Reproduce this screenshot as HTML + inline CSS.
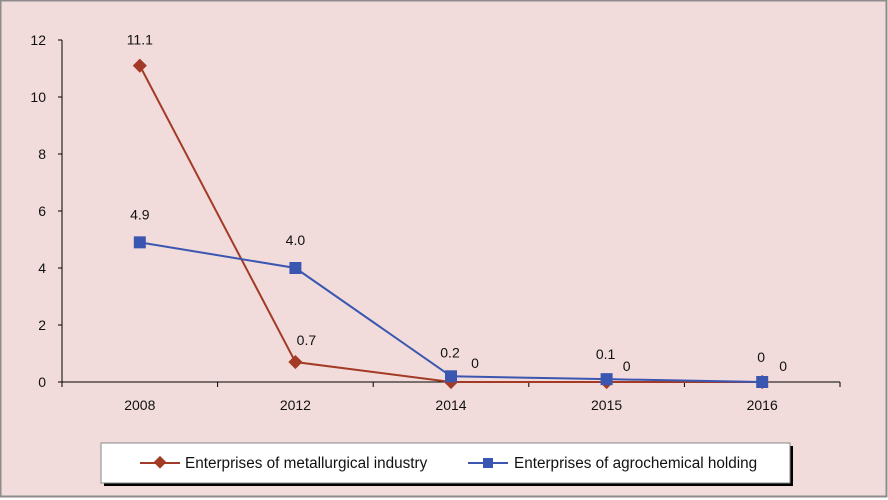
<!DOCTYPE html>
<html><head><meta charset="utf-8"><style>
body{margin:0;background:#fff}
svg{display:block;font-family:"Liberation Sans",sans-serif}
</style></head><body>
<svg width="888" height="500">
<rect x="0.5" y="0.5" width="886" height="496" fill="#f2dcdb" stroke="#8c8c8c" stroke-width="2"/>
<g id="axes"></g>
<g id="series"></g>
<g>
<rect x="104" y="446" width="689" height="40" fill="#000"/>
<rect x="101" y="443" width="689" height="40" fill="#fff" stroke="#888" stroke-width="1"/>
<g>
<line x1="140" y1="463" x2="180" y2="463" stroke="#a33a26" stroke-width="2"/>
<rect x="155" y="458" width="9" height="9" fill="#a33a26" transform="rotate(45 160 463)"/>
<text x="185" y="468" font-size="15.3" fill="#111">Enterprises of metallurgical industry</text>
</g>
<g>
<line x1="468" y1="463" x2="508" y2="463" stroke="#3a56b0" stroke-width="2"/>
<rect x="483" y="458" width="10" height="10" fill="#3a56b0"/>
<text x="514" y="468" font-size="15.3" fill="#111">Enterprises of agrochemical holding</text>
</g>
</g>
</svg>
<script>
const categories=["2008","2012","2014","2015","2016"];
const metallurgical=[11.1,0.7,0,0,0];
const agrochemical=[4.9,4.0,0.2,0.1,0];
const metLabels=["11.1","0.7","0","0","0"];
const agroLabels=["4.9","4.0","0.2","0.1","0"];
const yTicks=[0,2,4,6,8,10,12];
const NS="http://www.w3.org/2000/svg";
const X0=62,X1=840,Y0=382,Y1=40,YMAX=12;
const band=(X1-X0)/categories.length;
const xs=i=>X0+band*(i+0.5);
const ys=v=>Y0-(v/YMAX)*(Y0-Y1);
function mk(t,a,p){const e=document.createElementNS(NS,t);for(const k in a)e.setAttribute(k,a[k]);p.appendChild(e);return e;}
const ax=document.getElementById('axes');
const yl=mk('line',{x1:X0,y1:Y1,x2:X0,y2:Y0,stroke:'#000','stroke-width':1},ax);


const xl=mk('line',{x1:X0,y1:Y0,x2:X1,y2:Y0,stroke:'#000','stroke-width':1},ax);


yTicks.forEach(v=>{
 mk('line',{x1:X0-4,y1:ys(v),x2:X0,y2:ys(v),stroke:'#000'},ax);
 const t=mk('text',{x:X0-16,y:ys(v)+5,'text-anchor':'end','font-size':14,fill:'#111'},ax);t.textContent=v;
 
 
});
categories.forEach((c,i)=>{
 mk('line',{x1:X0+band*i,y1:Y0,x2:X0+band*i,y2:Y0+5,stroke:'#000'},ax);
 const t=mk('text',{x:xs(i),y:Y0+28,'text-anchor':'middle','font-size':14,fill:'#111'},ax);t.textContent=c;
 
 
});
mk('line',{x1:X1,y1:Y0,x2:X1,y2:Y0+5,stroke:'#000'},ax);
const sg=document.getElementById('series');
function series(vals,labels,color,shape,name,offs){
 const g=mk('g',{},sg);
 
 
 mk('polyline',{points:vals.map((v,i)=>xs(i)+','+ys(v)).join(' '),fill:'none',stroke:color,'stroke-width':2},g);
 vals.forEach((v,i)=>{
  let m;
  if(shape==='d'){m=mk('rect',{x:xs(i)-5,y:ys(v)-5,width:10,height:10,fill:color,transform:`rotate(45 ${xs(i)} ${ys(v)})`},g);}
  else{m=mk('rect',{x:xs(i)-6,y:ys(v)-6,width:12,height:12,fill:color},g);}
  
  
  const o=offs[i];
  const t=mk('text',{x:xs(i)+o[0],y:ys(v)+o[1],'text-anchor':'middle','font-size':14,fill:'#111'},g);t.textContent=labels[i];
  
  
 });
}
series(metallurgical,metLabels,'#a33a26','d','series-metallurgical',[[0,-21],[11,-17],[24,-14],[20,-11],[21,-11]]);
series(agrochemical,agroLabels,'#3a56b0','s','series-agrochemical',[[0,-23],[0,-23],[-1,-19],[-1,-20],[-1,-20]]);
</script>
</body></html>
